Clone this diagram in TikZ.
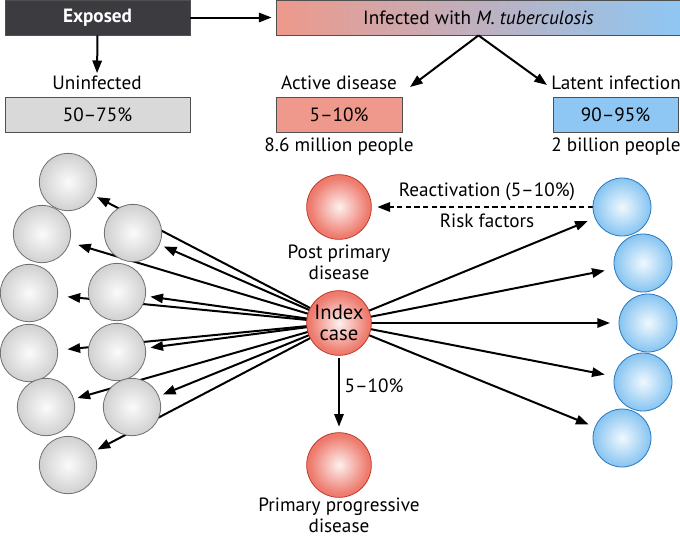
\documentclass[tikz,border=0pt]{standalone}
\usepackage{fontspec}
\setmainfont{PT Sans}
\usetikzlibrary{arrows.meta}
\pgfdeclarelayer{bg}
\pgfsetlayers{bg,main}
\definecolor{darkbox}{HTML}{3C3B40}
\definecolor{boxline}{HTML}{505050}
\definecolor{graybox}{HTML}{D9D9D9}
\definecolor{salmon}{HTML}{EE998B}
\definecolor{skyblue}{HTML}{8EC7F3}
\definecolor{gC}{HTML}{FBFBFB}
\definecolor{gM}{HTML}{D0D0D0}
\definecolor{gE}{HTML}{9E9E9E}
\definecolor{gL}{HTML}{707070}
\definecolor{rC}{HTML}{FDF0EE}
\definecolor{rM}{HTML}{EE7E71}
\definecolor{rE}{HTML}{DC4636}
\definecolor{rL}{HTML}{C0392B}
\definecolor{bC}{HTML}{F0F8FE}
\definecolor{bM}{HTML}{86C4F1}
\definecolor{bE}{HTML}{3893DC}
\definecolor{bL}{HTML}{2A78BE}
\pgfdeclareradialshading{grayball}{\pgfpoint{0bp}{0bp}}{color(0bp)=(gC); color(25bp)=(gM); color(50bp)=(gE)}
\pgfdeclareradialshading{redball}{\pgfpoint{0bp}{0bp}}{color(0bp)=(rC); color(22bp)=(rM); color(50bp)=(rE)}
\pgfdeclareradialshading{blueball}{\pgfpoint{0bp}{0bp}}{color(0bp)=(bC); color(25bp)=(bM); color(50bp)=(bE)}
\begin{document}
\begin{tikzpicture}[x=0.75pt,y=-0.75pt,font=\fontsize{14.4}{15.75}\selectfont,
  box/.style={draw=boxline,line width=0.6pt,minimum height=26.25pt,inner sep=0pt},
  lbl/.style={inner sep=0pt,align=center},
  gball/.style={circle,draw=gL,line width=0.6pt,shade,shading=grayball,minimum size=43pt,inner sep=0pt,outer sep=0pt},
  rball/.style={circle,draw=rL,line width=0.6pt,shade,shading=redball,minimum size=48.5pt,inner sep=0pt,outer sep=0pt,align=center},
  bball/.style={circle,draw=bL,line width=0.6pt,shade,shading=blueball,minimum size=43.5pt,inner sep=0pt,outer sep=0pt},
  arr/.style={line width=1.5pt,-{Triangle[length=9.5pt,width=7pt]}},
  dasharr/.style={arr,dash pattern=on 4pt off 2.5pt}]
\useasboundingbox (0,0) rectangle (680,537);
% top boxes
\node[box,fill=darkbox,text=white,font=\fontsize{14.4}{15.75}\selectfont\bfseries,minimum width=138.75pt] (exposed) at (97.5,17.5) {Exposed};
\node[box,left color=salmon,right color=skyblue,minimum width=303.75pt] (infected) at (478.5,17.5) {Infected with \textit{M. tuberculosis}};
\node[lbl] (uninf) at (97,83) {Uninfected};
\node[lbl] (active) at (339,83) {Active disease};
\node[lbl] (latent) at (616,83) {Latent infection};
\node[box,fill=graybox,minimum width=138.75pt] (uninfbox) at (97.5,114.5) {50–75\%};
\node[box,fill=salmon,minimum width=94.5pt] (actbox) at (339,114.5) {5–10\%};
\node[box,fill=skyblue,minimum width=93.75pt] (latbox) at (615.5,114.5) {90–95\%};
\node[lbl] (actpeople) at (339,147) {8.6 million people};
\node[lbl] (latpeople) at (616,147) {2 billion people};
\coordinate (acttip) at (410,87);
\coordinate (lattip) at (547,85);
\draw[arr,shorten >=3pt] (exposed.east) -- (infected.west);
\draw[arr,shorten >=2pt] (exposed.south) -- (uninf.north);
\draw[arr] (infected.south) -- (acttip);
\draw[arr] (infected.south) -- (lattip);
% gray circles
\node[gball] (g1) at (68,182) {};
\node[gball] (g2) at (42,234) {};
\node[gball] (g3) at (133,233) {};
\node[gball] (g4) at (29,293) {};
\node[gball] (g5) at (117,292) {};
\node[gball] (g6) at (29,353) {};
\node[gball] (g7) at (117,352) {};
\node[gball] (g8) at (46,407) {};
\node[gball] (g9) at (132,407) {};
\node[gball] (g10) at (68,465) {};
% red circles
\node[rball] (post) at (339,207) {};
\node[rball,font=\fontsize{15.5}{15.75}\selectfont] (index) at (339,323) {Index\\case};
\node[rball] (prim) at (339,465) {};
% blue circles
\node[bball] (b1) at (622,207) {};
\node[bball] (b2) at (643,263) {};
\node[bball] (b3) at (648,323) {};
\node[bball] (b4) at (643,382) {};
\node[bball] (b5) at (622,438) {};
% labels
\node[lbl] (postlbl) at (339,262.5) {Post primary\\disease};
\node[lbl] (primlbl) at (339,515.5) {Primary progressive\\disease};
\node[lbl] (pct) at (374,386) {5–10\%};
\node[lbl] (react) at (487,192) {Reactivation (5–10\%)};
\node[lbl] (risk) at (487,221) {Risk factors};
% connectors
\begin{pgfonlayer}{bg}
\draw[arr,shorten >=3pt] (index) -- (g1);
\draw[arr,shorten >=6.75pt] (index) -- (g2);
\draw[arr,shorten >=3.75pt] (index) -- (g3);
\draw[arr,shorten >=7.5pt] (index) -- (g4);
\draw[arr,shorten >=3.75pt] (index) -- (g5);
\draw[arr,shorten >=7.5pt] (index) -- (g6);
\draw[arr,shorten >=3.75pt] (index) -- (g7);
\draw[arr,shorten >=3pt] (index) -- (g8);
\draw[arr,shorten >=3.5pt] (index) -- (g9);
\draw[arr,shorten >=3.5pt] (index) -- (g10);
\draw[arr,shorten >=6pt] (index) -- (b1);
\draw[arr,shorten >=7.5pt] (index) -- (b2);
\draw[arr,shorten >=6.75pt] (index) -- (b3);
\draw[arr,shorten >=7.5pt] (index) -- (b4);
\draw[arr,shorten >=5.25pt] (index) -- (b5);
\draw[arr,shorten <=2pt,shorten >=4.5pt] (index) -- (prim);
\draw[dasharr,shorten >=4.5pt] (b1) -- (post);
\end{pgfonlayer}
\end{tikzpicture}
\end{document}
